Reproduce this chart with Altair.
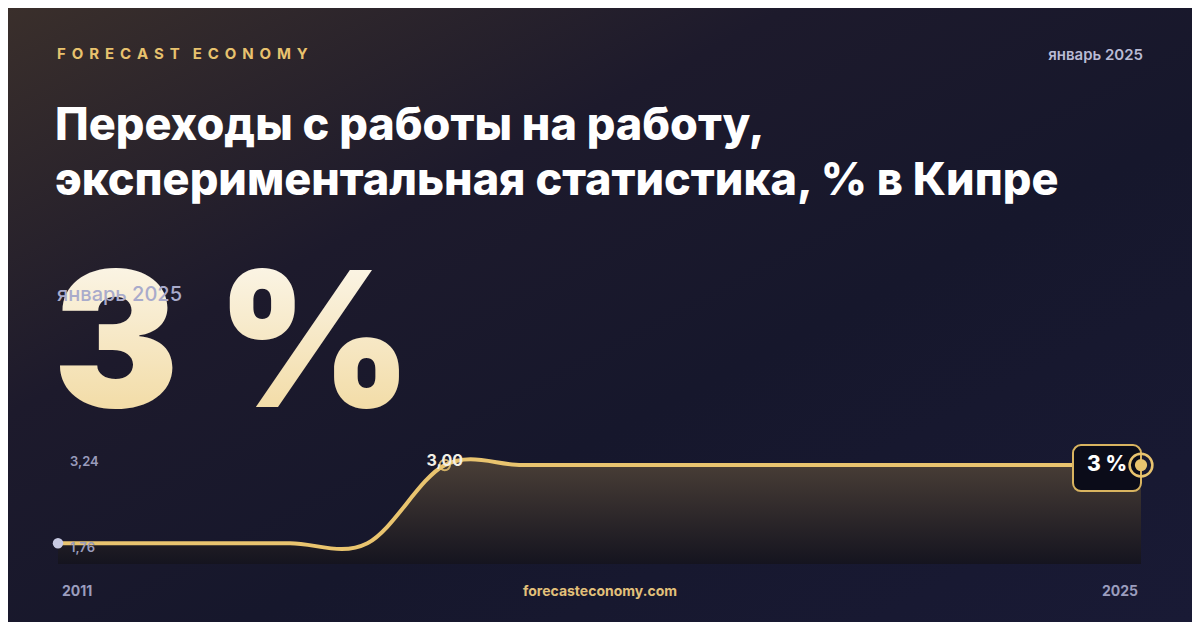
import altair as alt
import pandas as pd

# ---------------- data ----------------
years = [2011, 2012, 2013, 2014, 2015, 2016, 2017, 2018, 2019, 2020, 2021, 2022, 2023, 2024, 2025]
values = [1.76, 1.76, 1.76, 1.76, 1.76, 3.00, 3.00, 3.00, 3.00, 3.00, 3.00, 3.00, 3.00, 3.00, 3.00]
y_domain = [1.43, 3.24]
brand_words = ["FORECAST", "ECONOMY"]
period = "январь 2025"
title_lines = ["Переходы с работы на работу,", "экспериментальная статистика, % в Кипре"]
big_value = "3 %"
site = "forecasteconomy.com"

W, H = 1184, 614
GOLD = "#e9c46f"
FONT = "Inter"

df = pd.DataFrame({"year": years, "value": values})
min_i = values.index(min(values))
max_i = values.index(max(values))
df_min = df.iloc[[min_i]]
df_max = df.iloc[[max_i]]
df_last = df.iloc[[-1]]
df_first = df.iloc[[0]]
one = pd.DataFrame({"k": [0]})
df_top = pd.DataFrame({"year": [years[0]], "value": [y_domain[1]]})

LS = "\u2009\u2009\u200a"          # letter spacing substitute
WS = "\u2009\u2009\u200a\u00a0\u00a0"  # word gap
brand_text = WS.join(LS.join(list(w)) for w in brand_words)

xs = alt.Scale(domain=[years[0], years[-1]], range=[50, 1133], nice=False, zero=False)
ys = alt.Scale(domain=y_domain, range=[556, 442], nice=False, zero=False)
X = alt.X("year:Q", scale=xs, axis=None)
Y = alt.Y("value:Q", scale=ys, axis=None)

# ---------------- background ----------------
bg_lin = alt.Chart(one).mark_rect(
    fill=alt.Gradient(gradient="linear", x1=0, y1=0, x2=1, y2=1,
                      stops=[alt.GradientStop(color="#3a2f2b", offset=0),
                             alt.GradientStop(color="#1d1a2c", offset=0.33),
                             alt.GradientStop(color="#16172c", offset=0.6),
                             alt.GradientStop(color="#191a35", offset=1)])
).encode(x=alt.value(0), x2=alt.value(W), y=alt.value(0), y2=alt.value(H))

# ---------------- header texts ----------------
t_brand = alt.Chart(one).mark_text(
    text=brand_text, font=FONT, fontSize=15, fontWeight=700,
    color="#e8c26e", align="left", baseline="alphabetic"
).encode(x=alt.value(49), y=alt.value(51))

t_period = alt.Chart(one).mark_text(
    text=period, font=FONT, fontSize=15, fontWeight=600, color="#b9bbd5",
    align="right", baseline="middle"
).encode(x=alt.value(1135), y=alt.value(47))

t_title = alt.Chart(one).mark_text(
    text=title_lines, font=FONT, fontSize=45, fontWeight=800, color="#ffffff",
    align="left", baseline="alphabetic", lineHeight=55
).encode(x=alt.value(47), y=alt.value(132))

t_big = alt.Chart(one).mark_text(
    text=big_value, font=FONT, fontSize=188, fontWeight=900, align="left", baseline="alphabetic",
    fill=alt.Gradient(gradient="linear", x1=0, y1=0, x2=0, y2=1,
                      stops=[alt.GradientStop(color="#fdfbf6", offset=0),
                             alt.GradientStop(color="#f0d595", offset=1)])
).encode(x=alt.value(45), y=alt.value(399))

t_big_period = alt.Chart(one).mark_text(
    text=period, font=FONT, fontSize=20, fontWeight=500, color="#a9abcb",
    align="left", baseline="middle"
).encode(x=alt.value(49), y=alt.value(287))

# ---------------- series ----------------
area = alt.Chart(df).mark_area(
    interpolate="cardinal",
    color=alt.Gradient(gradient="linear", x1=1, y1=0, x2=1, y2=1,
                       stops=[alt.GradientStop(color="#4a3f37", offset=0),
                              alt.GradientStop(color="#15141f", offset=1)])
).encode(x=X, y=Y, y2=alt.datum(y_domain[0]))

line = alt.Chart(df).mark_line(interpolate="cardinal", color=GOLD, strokeWidth=4).encode(x=X, y=Y)

pt_min = alt.Chart(df_min).mark_circle(color="#c8cae2", size=110, opacity=1).encode(x=X, y=Y)

pt_max = alt.Chart(df_max).mark_point(shape="circle", filled=False, color=GOLD, size=110,
                                      strokeWidth=2, opacity=0.85).encode(x=X, y=Y)

lbl_max = alt.Chart(df_max).transform_calculate(
    t="replace(format(datum.value, '.2f'), '.', ',')"
).mark_text(font=FONT, fontSize=16, fontWeight=700, color="#f2efe6", baseline="middle", dy=-4
            ).encode(x=X, y=Y, text="t:N")

ylab_top = alt.Chart(df_top).transform_calculate(
    t="replace(format(datum.value, '.2f'), '.', ',')"
).mark_text(font=FONT, fontSize=13, fontWeight=600, color="#9a9cbc",
            align="left", baseline="middle", dy=12, dx=12).encode(x=X, y=Y, text="t:N")

ylab_min = alt.Chart(df_min).transform_calculate(
    t="replace(format(datum.value, '.2f'), '.', ',')"
).mark_text(font=FONT, fontSize=13, fontWeight=600, color="#9a9cbc",
            align="left", baseline="middle", dy=5, dx=12).encode(x=X, y=Y, text="t:N")

xlab_first = alt.Chart(df_first).mark_text(
    font=FONT, fontSize=14, fontWeight=700, color="#9b9dbe", align="left", baseline="middle", dx=4
).encode(x=X, y=alt.value(584), text=alt.Text("year:O"))

xlab_last = alt.Chart(df_last).mark_text(
    font=FONT, fontSize=14, fontWeight=700, color="#9b9dbe", align="right", baseline="middle", dx=-3
).encode(x=X, y=alt.value(584), text=alt.Text("year:O"))

t_site = alt.Chart(one).mark_text(
    text=site, font=FONT, fontSize=14, fontWeight=700, color="#e2c07a",
    align="center", baseline="middle"
).encode(x=alt.value(592), y=alt.value(584))

# end badge
badge = alt.Chart(df_last).mark_rect(
    fill="#0b0c19", stroke="#d9b460", strokeWidth=2, cornerRadius=8,
    xOffset=-68, x2Offset=0, yOffset=-20, y2Offset=26
).encode(x=X, x2="year:Q", y=Y, y2="value:Q")

badge_txt = alt.Chart(df_last).transform_calculate(
    t="format(datum.value, 'd') + ' %'"
).mark_text(font=FONT, fontSize=21, fontWeight=800, color="#ffffff", align="center",
            baseline="middle", dx=-34).encode(x=X, y=Y, text="t:N")

ring = alt.Chart(df_last).mark_point(shape="circle", filled=False, color=GOLD, size=520,
                                     strokeWidth=2.5, opacity=1).encode(x=X, y=Y)
dot = alt.Chart(df_last).mark_circle(color=GOLD, size=150, opacity=1).encode(x=X, y=Y)

chart = alt.layer(
    bg_lin,
    t_brand, t_period, t_title, t_big, t_big_period,
    area, line, pt_min, pt_max, lbl_max, ylab_top, ylab_min,
    xlab_first, xlab_last, t_site,
    badge, badge_txt, ring, dot
).properties(
    width=W, height=H, padding=0, autosize=alt.AutoSizeParams(type="none"), background="#16172c"
).configure_view(stroke=None)

chart.save("out.html", embed_options={"renderer": "svg", "actions": False})
